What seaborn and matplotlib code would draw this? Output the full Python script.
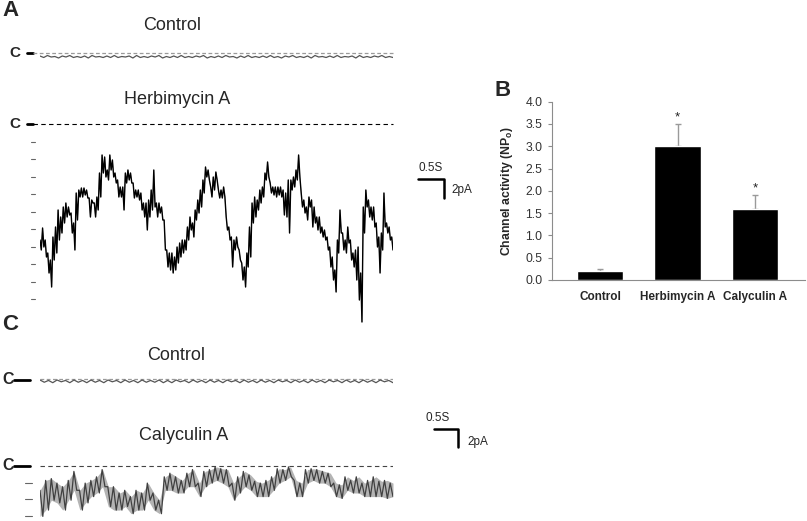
import numpy as np
import matplotlib
matplotlib.use('Agg')
import matplotlib.pyplot as plt
import seaborn as sns

sns.set_style('white')
plt.rcParams['font.family'] = ['Liberation Sans', 'DejaVu Sans']

W, H = 807, 521

# ---- data ----
# control traces (pA)
ctrl_a = [-0.3, -0.45, -0.25, -0.4, -0.35, -0.5, -0.3, -0.4, -0.25, -0.45, -0.35, -0.45,
          -0.3, -0.5, -0.25, -0.4, -0.35, -0.45, -0.3, -0.45, -0.25, -0.45, -0.35, -0.4,
          -0.3, -0.5, -0.25, -0.45, -0.35, -0.45, -0.3, -0.4, -0.25, -0.5, -0.35, -0.45,
          -0.3, -0.45, -0.25, -0.45, -0.35, -0.45, -0.3, -0.4, -0.25, -0.5, -0.35, -0.45,
          -0.3, -0.45, -0.25, -0.4, -0.35, -0.5, -0.3, -0.45, -0.25, -0.45, -0.35, -0.45,
          -0.3, -0.45, -0.25, -0.45, -0.35, -0.5, -0.3, -0.4, -0.25, -0.45, -0.35, -0.45,
          -0.3, -0.5, -0.25, -0.4, -0.35, -0.45, -0.3, -0.45, -0.25, -0.45, -0.35, -0.4,
          -0.3, -0.5, -0.25, -0.45, -0.35, -0.45, -0.3, -0.4, -0.25, -0.45, -0.35, -0.45]
ctrl_c = [0.0, -0.25, -0.05, -0.3, 0.0, -0.2, -0.05, -0.3, 0.0, -0.25, -0.05, -0.3,
          0.0, -0.25, -0.05, -0.3, 0.0, -0.2, -0.05, -0.3, 0.0, -0.25, -0.05, -0.3,
          0.0, -0.25, -0.05, -0.25, 0.0, -0.3, -0.05, -0.3, 0.0, -0.2, -0.05, -0.3,
          0.0, -0.25, -0.05, -0.3, 0.0, -0.25, -0.05, -0.3, 0.0, -0.2, -0.05, -0.3,
          0.0, -0.25, -0.05, -0.3, 0.0, -0.25, -0.05, -0.3, 0.0, -0.2, -0.05, -0.3,
          0.0, -0.25, -0.05, -0.3, 0.0, -0.25, -0.05, -0.3, 0.0, -0.2, -0.05, -0.3,
          0.0, -0.25, -0.05, -0.3, 0.0, -0.25, -0.05, -0.3, 0.0, -0.2, -0.05, -0.3]

# Herbimycin A trace: (upper, lower) current in pA for successive stretches
herb = [(-11.6, -12.6), (-10.4, -12.3), (-11.6, -13.3), (-12.9, -14.9), (-13.6, -16.3),
        (-11.3, -13.6), (-10.3, -12.9), (-8.6, -11.6), (-9.3, -10.9), (-8.3, -9.9),
        (-7.9, -9.3), (-8.3, -9.1), (-8.9, -10.9), (-9.9, -12.6), (-6.9, -9.6),
        (-6.6, -7.3), (-6.4, -7.3), (-6.4, -7.1), (-6.6, -7.4), (-7.4, -9.3),
        (-7.6, -7.9), (-7.9, -9.3), (-7.3, -8.6), (-4.9, -7.3), (-3.1, -4.9),
        (-3.3, -5.3), (-4.6, -5.6), (-3.1, -4.6), (-3.6, -5.3), (-4.9, -5.9),
        (-5.6, -7.3), (-6.3, -7.3), (-6.3, -8.6), (-4.9, -5.9), (-4.6, -5.6),
        (-4.9, -5.9), (-5.9, -7.4), (-6.6, -7.3), (-6.6, -7.6), (-6.9, -8.6),
        (-7.9, -9.3), (-7.9, -10.6), (-7.6, -9.3), (-6.6, -8.6), (-4.6, -8.3),
        (-7.9, -9.3), (-7.9, -8.9), (-8.3, -9.6), (-9.6, -12.6), (-12.6, -14.3),
        (-12.9, -14.6), (-12.9, -14.9), (-13.3, -14.6), (-12.3, -13.9), (-11.9, -13.3),
        (-11.6, -12.9), (-11.6, -12.6), (-10.3, -11.6), (-9.3, -10.6), (-9.9, -11.3),
        (-8.6, -9.6), (-7.6, -8.9), (-6.6, -8.3), (-5.6, -6.9), (-4.3, -5.3),
        (-4.6, -5.6), (-6.3, -7.3), (-5.3, -6.6), (-4.8, -5.6), (-6.6, -7.4),
        (-6.6, -7.4), (-6.3, -7.3), (-9.3, -10.6), (-10.3, -11.6), (-11.3, -14.3),
        (-11.6, -12.6), (-11.3, -12.3), (-12.6, -13.6), (-13.9, -15.6), (-14.3, -16.3),
        (-12.9, -14.3), (-10.3, -13.3), (-7.9, -9.9), (-7.3, -9.3), (-7.6, -8.6),
        (-6.6, -7.9), (-6.3, -7.3), (-4.9, -5.6), (-3.8, -5.3), (-5.9, -6.9),
        (-6.3, -7.1), (-6.3, -7.3), (-6.3, -7.1), (-6.3, -7.3), (-6.6, -9.1),
        (-6.9, -9.3), (-5.6, -10.9), (-5.6, -6.6), (-5.3, -6.3), (-4.6, -5.6),
        (-3.1, -5.3), (-6.9, -8.3), (-7.6, -8.9), (-8.3, -9.6), (-7.3, -8.3),
        (-7.6, -10.3), (-8.3, -9.9), (-9.3, -10.6), (-9.3, -10.9), (-10.3, -11.3),
        (-10.6, -11.6), (-11.3, -12.6), (-12.3, -14.3), (-13.3, -15.6), (-14.6, -16.8),
        (-11.6, -12.9), (-8.6, -10.9), (-10.9, -12.6), (-11.6, -12.9), (-10.3, -11.9),
        (-11.6, -13.6), (-12.9, -14.3), (-12.6, -15.6), (-12.3, -17.6), (-14.9, -19.8),
        (-8.3, -10.9), (-6.6, -8.3), (-7.6, -9.3), (-8.3, -9.6), (-8.3, -10.3),
        (-9.9, -12.3), (-11.3, -14.9), (-10.9, -12.6), (-6.9, -10.3), (-9.9, -10.9),
        (-10.3, -11.6), (-11.3, -12.6)]

# Calyculin A trace: (upper, lower) current in pA
caly = [(-2.7, -5.6), (-1.6, -4.9), (-1.4, -3.8), (-1.9, -4.1), (-2.3, -4.9),
        (-1.6, -3.8), (-0.6, -2.7), (-2.7, -4.9), (-1.9, -4.1), (-1.6, -3.4),
        (-1.2, -3.0), (-0.4, -2.3), (-2.3, -4.5), (-2.3, -4.9), (-3.0, -4.9),
        (-2.7, -4.5), (-3.4, -5.3), (-2.7, -4.9), (-3.0, -4.9), (-1.9, -3.8),
        (-3.0, -4.9), (-3.8, -5.3), (-1.2, -2.7), (-0.8, -2.7), (-1.2, -3.0),
        (-1.6, -3.0), (-0.8, -2.3), (-0.4, -2.3), (-1.9, -3.4), (-0.6, -2.3),
        (-0.4, -1.9), (-0.1, -1.6), (-0.3, -1.9), (-0.4, -2.3), (-1.9, -3.8),
        (-1.2, -3.0), (-0.6, -2.3), (-1.0, -2.7), (-1.7, -3.4), (-1.9, -3.4),
        (-1.6, -3.4), (-1.2, -2.7), (-0.3, -1.9), (-0.4, -1.6), (-0.1, -1.2),
        (-1.6, -3.4), (-1.9, -3.4), (-0.4, -1.9), (-0.3, -1.6), (-0.4, -1.9),
        (-0.6, -1.9), (-0.8, -2.3), (-1.9, -3.4), (-2.1, -3.6), (-1.2, -2.7),
        (-1.6, -3.0), (-1.2, -3.0), (-1.9, -3.4), (-1.6, -3.4), (-1.2, -3.4),
        (-1.7, -3.4), (-1.6, -3.6), (-1.9, -3.4)]

# panel B
groups = ['Control', 'Herbimycin A', 'Calyculin A']
activity = [0.2, 3.0, 1.6]
activity_err = [0.05, 0.5, 0.3]
signif = ['', '*', '*']

herb_level = 1.75   # pA per open channel, panel A
caly_level = 1.85   # pA per open channel, panel C

fig = plt.figure(figsize=(W / 100, H / 100), dpi=100)


def px_axes(x0, y0, x1, y1):
    return fig.add_axes([x0 / W, 1 - y1 / H, (x1 - x0) / W, (y1 - y0) / H])


def trace_axes(y0, y1, yzero, scale, dur=7.0):
    ax = px_axes(40, y0, 393, y1)
    ax.set_xlim(0, dur)
    ax.set_ylim(-(y1 - yzero) / scale, (yzero - y0) / scale)
    ax.axis('off')
    ax.patch.set_alpha(0)
    return ax


def zigzag(pairs):
    return [v for p in pairs for v in p]


def draw_trace(ax, vals, color, lw):
    t = np.linspace(0, 7.0, len(vals))
    sns.lineplot(x=t, y=vals, ax=ax, color=color, lw=lw, estimator=None, sort=False)


# overlay in pixel coordinates for labels and scale bars
ov = fig.add_axes([0, 0, 1, 1])
ov.set_xlim(0, W)
ov.set_ylim(H, 0)
ov.axis('off')

# ---- panel A ----
ax1 = trace_axes(45, 63, 53, 10)
ax1.plot([-0.14, 7], [0, 0], color='#9a9a9a', lw=0.9, ls=(0, (3, 2)), clip_on=False)
draw_trace(ax1, ctrl_a, '#555555', 0.9)

ax2 = trace_axes(116, 326, 124, 10)
ax2.plot([-0.14, 7], [0, 0], color='black', lw=0.8, ls=(0, (4, 3)), clip_on=False)
draw_trace(ax2, zigzag(herb), '#8a8a8a', 0.5)
draw_trace(ax2, zigzag(herb), 'black', 1.0)
for k in range(1, 11):
    ax2.plot([-0.18, -0.1], [-k * herb_level] * 2, color='#666666', lw=0.8, clip_on=False)

ov.text(2, 10, 'A', fontsize=16, fontweight='bold', va='center', ha='left')
ov.text(172, 26, 'Control', fontsize=13, ha='center', va='center')
ov.text(177, 99, 'Herbimycin A', fontsize=13, ha='center', va='center')
for yc in (53, 124):
    ov.text(9, yc, 'C', fontsize=11, fontweight='bold', ha='left', va='center')
    ov.plot([27, 33], [yc, yc], color='black', lw=2)

# scale bar A
ov.text(431, 168, '0.5S', fontsize=8.5, ha='center', va='center')
ov.plot([418, 444, 444], [179, 179, 198], color='black', lw=1.8)
ov.text(451, 190, '2pA', fontsize=8.5, ha='left', va='center')

# ---- panel C ----
ax3 = trace_axes(372, 389, 380, 9)
ax3.plot([0, 7], [0.15, 0.15], color='#9a9a9a', lw=0.9, ls=(0, (3, 2)))
draw_trace(ax3, ctrl_c, '#555555', 0.9)

ax4 = trace_axes(460, 521, 466, 9)
ax4.plot([0, 7], [0, 0], color='#444444', lw=0.8, ls=(0, (4, 3)))
t_cols = np.linspace(0, 7.0, len(caly))
ax4.fill_between(t_cols, [p[0] for p in caly], [p[1] for p in caly],
                 color='#b4b4b4', lw=0)
draw_trace(ax4, zigzag(caly), '#404040', 0.9)
for k in range(1, 4):
    ax4.plot([-0.3, -0.16], [-k * caly_level] * 2, color='#666666', lw=0.8, clip_on=False)

ov.text(2, 325, 'C', fontsize=16, fontweight='bold', va='center', ha='left')
ov.text(176, 356, 'Control', fontsize=13, ha='center', va='center')
ov.text(184, 436, 'Calyculin A', fontsize=13, ha='center', va='center')
for yc in (380, 466):
    ov.text(2, yc, 'C', fontsize=11.5, fontweight='bold', ha='left', va='center')
    ov.plot([14, 30], [yc, yc], color='black', lw=2)

ov.text(438, 418, '0.5S', fontsize=8.5, ha='center', va='center')
ov.plot([434, 458, 458], [429, 429, 447], color='black', lw=1.8)
ov.text(467, 442, '2pA', fontsize=8.5, ha='left', va='center')

# ---- panel B ----
ov.text(494, 90, 'B', fontsize=16, fontweight='bold', va='center', ha='left')
axb = px_axes(552, 101.7, 805, 280)
sns.barplot(x=groups, y=activity, color='black', width=0.6, errorbar=None,
            saturation=1, ax=axb, zorder=2)
axb.errorbar(range(len(groups)), activity, yerr=[[0] * 3, activity_err], fmt='none',
             ecolor='#9a9a9a', elinewidth=1, capsize=2.5, capthick=1, zorder=1)
for i, s in enumerate(signif):
    if s:
        axb.text(i, activity[i] + activity_err[i] + 0.02, s, ha='center', va='bottom',
                 fontsize=9.5, color='#222222')
axb.set_xlim(-0.62, 2.645)
axb.set_ylim(0, 4.0)
axb.set_yticks(np.arange(0, 4.01, 0.5))
axb.set_yticklabels([f'{v:.1f}' for v in np.arange(0, 4.01, 0.5)])
for side in ('top', 'right'):
    axb.spines[side].set_visible(False)
for side in ('left', 'bottom'):
    axb.spines[side].set_color('#8c8c8c')
    axb.spines[side].set_linewidth(0.8)
axb.tick_params(axis='y', left=True, length=3, width=0.8, color='#8c8c8c',
                labelsize=8.8, labelcolor='#333333', pad=4)
axb.tick_params(axis='x', bottom=False, length=0, pad=8)
for lab in axb.get_xticklabels():
    lab.set_fontweight('bold')
    lab.set_fontsize(8.5)
axb.set_ylabel('Channel activity (NP$_\\mathregular{o}$)', fontsize=8.8,
               fontweight='bold', labelpad=7)
axb.set_xlabel('')
axb.patch.set_alpha(0)

fig.savefig('out.png', dpi=100)
